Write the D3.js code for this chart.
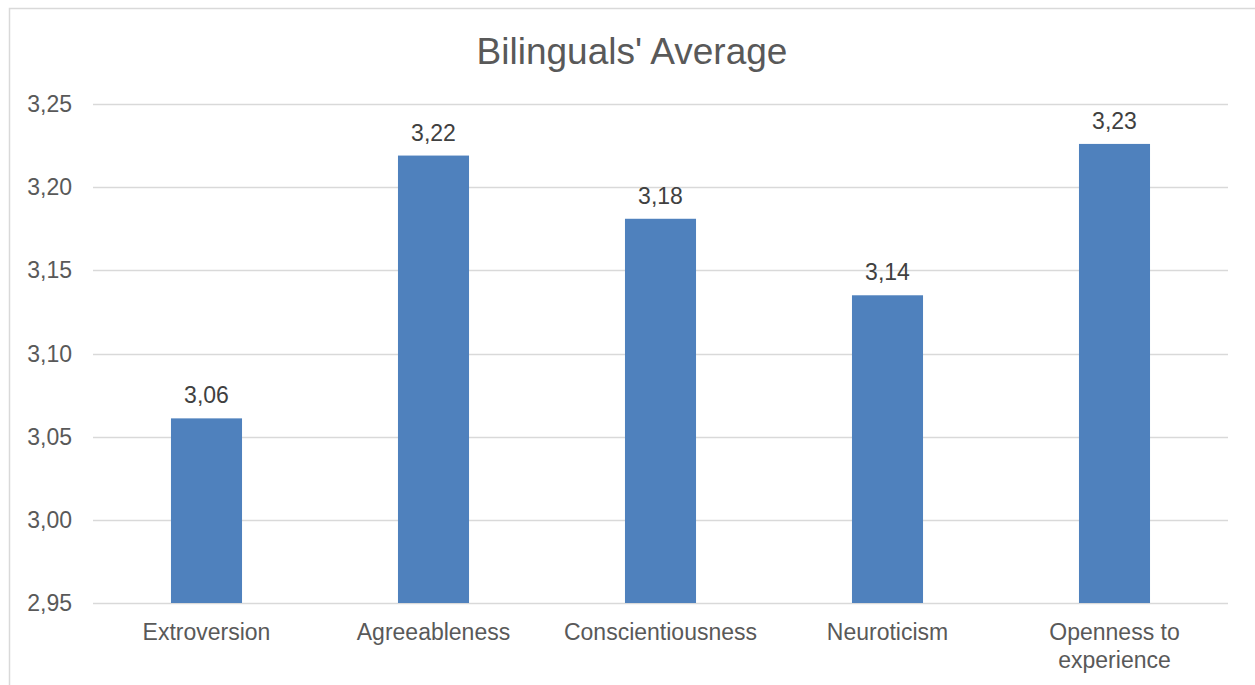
<!DOCTYPE html>
<html><head><meta charset="utf-8">
<script src="https://cdn.jsdelivr.net/npm/d3@7"></script>
<style>html,body{margin:0;padding:0;background:#fff;}svg{display:block;}</style>
</head><body>
<script>
const categories = ["Extroversion","Agreeableness","Conscientiousness","Neuroticism","Openness to experience"];
const values = [3.061, 3.219, 3.181, 3.135, 3.226];
const labels = ["3,06","3,22","3,18","3,14","3,23"];
const yTicks = [2.95,3.00,3.05,3.10,3.15,3.20,3.25];
const title = "Bilinguals' Average";

const W = 1255, H = 685;
const svg = d3.select("body").append("svg").attr("width", W).attr("height", H);
svg.append("rect").attr("x", 9.5).attr("y", 8.5).attr("width", 1260).attr("height", 700)
  .attr("fill", "#fff").attr("stroke", "#d9d9d9").attr("stroke-width", 1.5);

const font = "'Liberation Sans', Arial, sans-serif";
const x = d3.scaleBand().domain(categories).range([93, 1228]).paddingInner(0.687).paddingOuter(0.3435);
const y = d3.scaleLinear().domain([2.95, 3.25]).range([603, 104]);

svg.append("g").selectAll("line").data(yTicks).join("line")
  .attr("x1", 93).attr("x2", 1228)
  .attr("y1", d => Math.round(y(d)) + 0.5).attr("y2", d => Math.round(y(d)) + 0.5)
  .attr("stroke", "#d9d9d9").attr("stroke-width", 1.5);

svg.append("g").selectAll("text").data(yTicks).join("text")
  .attr("x", 72).attr("y", d => y(d)).attr("dy", "0.35em").attr("text-anchor", "end")
  .attr("font-family", font).attr("font-size", 23).attr("fill", "#595959")
  .text(d => d.toFixed(2).replace(".", ","));

svg.append("g").selectAll("rect").data(values).join("rect")
  .attr("x", (d, i) => x(categories[i])).attr("width", x.bandwidth())
  .attr("y", d => y(d)).attr("height", d => y(2.95) - y(d))
  .attr("fill", "#4f81bd");

svg.append("g").selectAll("text").data(values).join("text")
  .attr("x", (d, i) => x(categories[i]) + x.bandwidth() / 2).attr("y", d => y(d) - 15)
  .attr("text-anchor", "middle")
  .attr("font-family", font).attr("font-size", 23).attr("fill", "#404040")
  .text((d, i) => labels[i]);

const xl = svg.append("g").selectAll("text").data(categories).join("text")
  .attr("x", d => x(d) + x.bandwidth() / 2).attr("y", 640)
  .attr("text-anchor", "middle")
  .attr("font-family", font).attr("font-size", 23).attr("fill", "#595959");
xl.each(function(d) {
  const t = d3.select(this);
  if (d === "Openness to experience") {
    t.append("tspan").attr("x", x(d) + x.bandwidth() / 2).text("Openness to");
    t.append("tspan").attr("x", x(d) + x.bandwidth() / 2).attr("dy", 28).text("experience");
  } else t.text(d);
});

svg.append("text").attr("x", 632).attr("y", 64).attr("text-anchor", "middle")
  .attr("font-family", font).attr("font-size", 37).attr("fill", "#595959").text(title);
</script>
</body></html>
